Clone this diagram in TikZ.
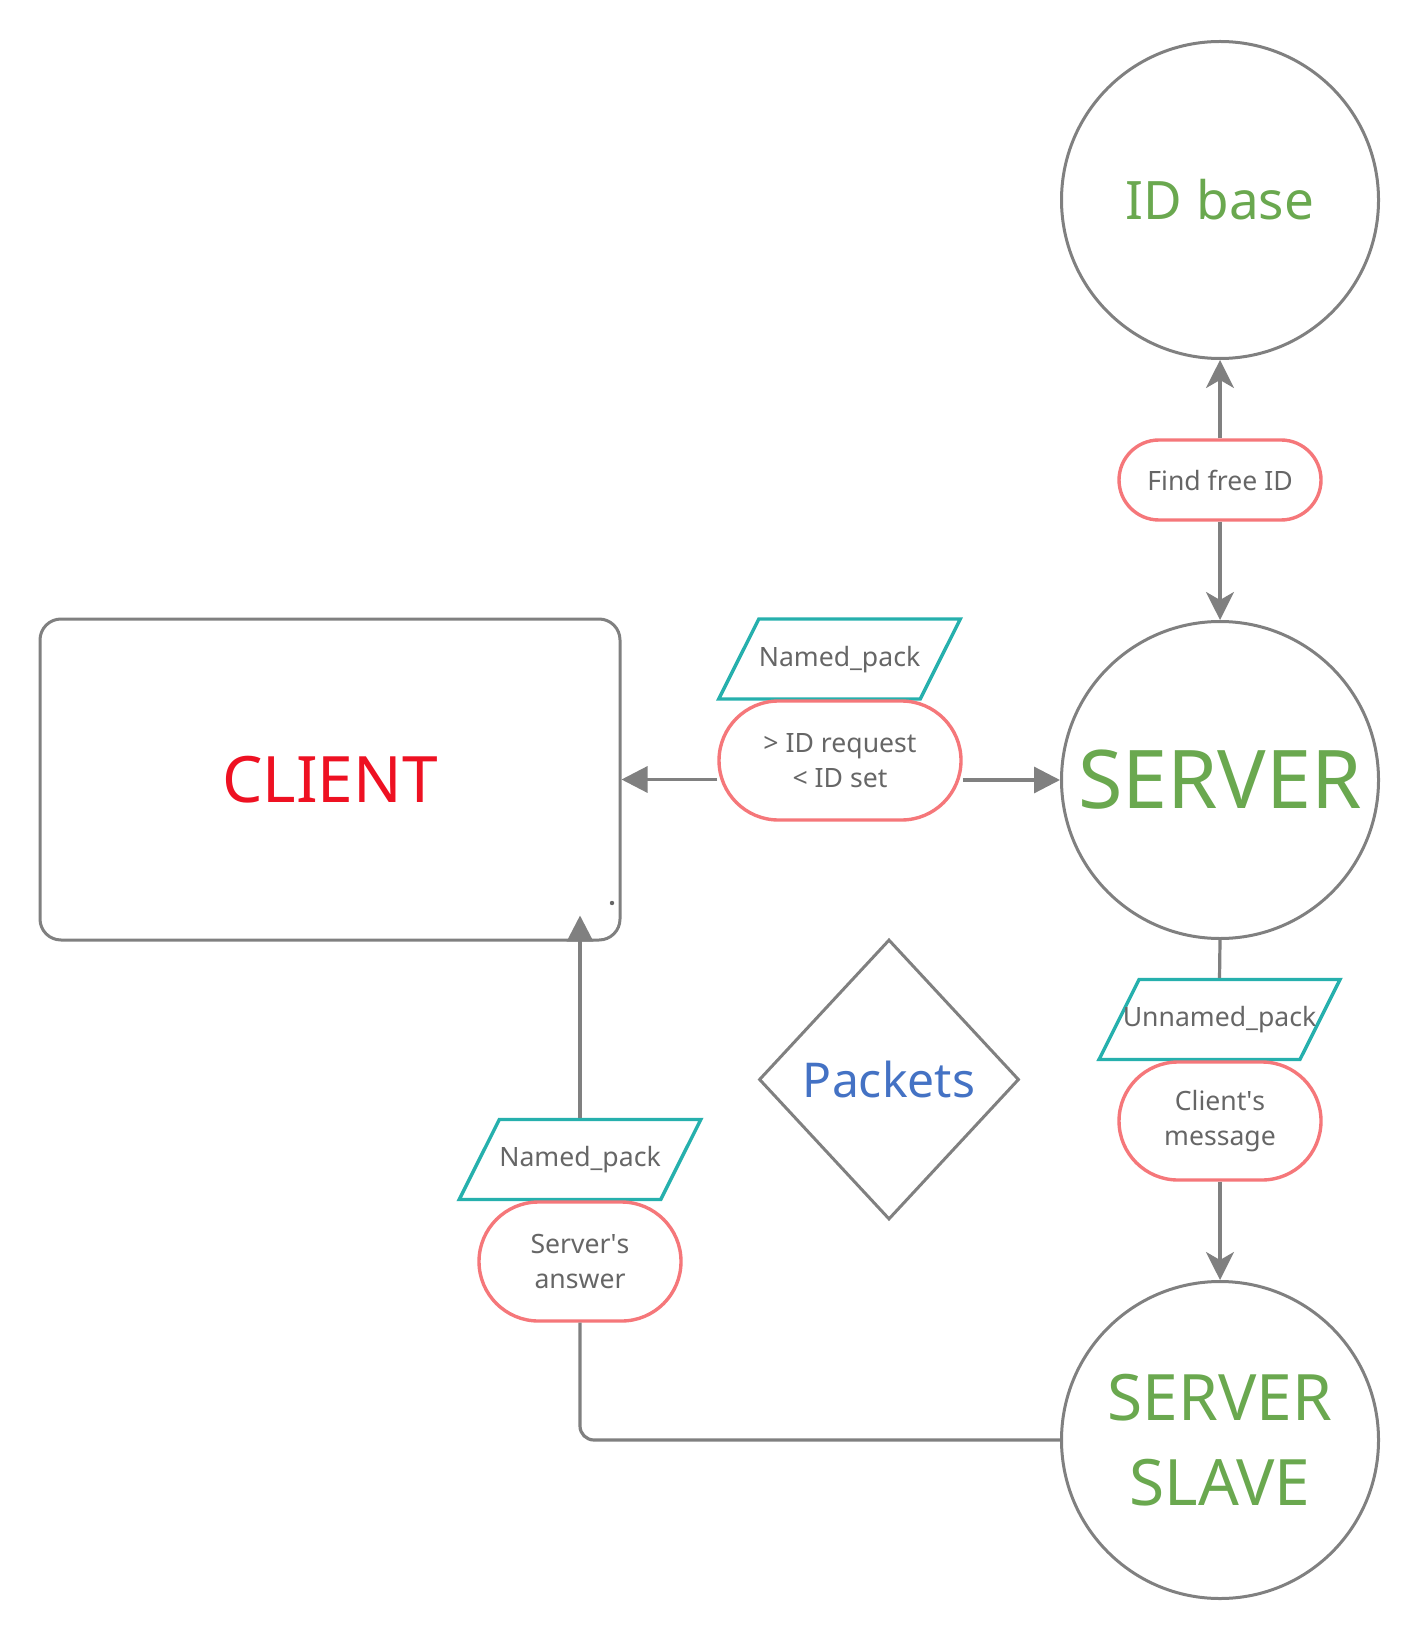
\documentclass[tikz,border=0pt]{standalone}
\usepackage{fontspec}
\setmainfont{Noto Sans}
\usetikzlibrary{shapes.geometric,shapes.misc,arrows.meta}
\definecolor{linegray}{HTML}{808080}
\definecolor{labelgray}{HTML}{666666}
\definecolor{idgreen}{HTML}{6AA84F}
\definecolor{clientred}{HTML}{EE1122}
\definecolor{packblue}{HTML}{4472C4}
\definecolor{packteal}{HTML}{26B0AD}
\definecolor{pillpink}{HTML}{F5777A}
\begin{document}
\begin{tikzpicture}[x=0.5pt,y=-0.5pt,
  bigcirc/.style={circle,draw=linegray,line width=1.5pt,minimum size=158.5pt,
    inner sep=0pt,text=idgreen,align=center},
  pill/.style={rounded rectangle,draw=pillpink,line width=1.7pt,minimum width=101pt,
    inner sep=0pt,text=labelgray,align=center,font=\fontsize{13.3}{17.5}\selectfont},
  pack/.style={trapezium,trapezium left angle=63.4,trapezium right angle=116.6,
    trapezium stretches body=true,draw=packteal,line width=1.7pt,minimum width=120.5pt,
    text height=10pt,text depth=3pt,inner ysep=13.5pt,inner xsep=0pt,
    text=labelgray,font=\fontsize{13.3}{17.5}\selectfont},
  conn/.style={draw=linegray,line width=1.6pt},
  tri/.style={conn,-{Triangle[length=13pt,width=13pt]}},
  stl/.style={conn,-{Stealth[length=14pt,width=14pt,inset=4pt]}}]
            \useasboundingbox (0,0) rectangle (1421,1641);
            % servers
            \draw (1220,200) node[bigcirc,font=\fontsize{26.5}{32}\selectfont] (idbase) {ID base};
            \draw (1220,780) node[bigcirc,font=\fontsize{40.5}{48}\selectfont] (server) {SERVER};
            \draw (1220,1440) node[bigcirc,font=\fontsize{32}{42.5}\selectfont] (slave) {SERVER\\SLAVE};
            % client
            \draw (330,779.5) node[rectangle,rounded corners=10.5pt,draw=linegray,
             line width=1.5pt,minimum width=290pt,minimum height=160.5pt,
             font=\fontsize{32}{40}\selectfont,text=clientred] (client) {CLIENT};
            \fill[labelgray] (612,903) circle (1.1pt);
            \draw (889,1079.5) node[diamond,draw=linegray,line width=1.5pt,inner sep=0pt,
             minimum width=130pt,minimum height=140pt,
             font=\fontsize{24}{30}\selectfont,text=packblue] (packets) {Packets};
            % packets and messages
            \draw (1220,480) node[pill,minimum height=40pt] (findid) {Find free ID};
            \draw (839.5,659) node[pack] (npack) {Named\_pack};
            \draw (840,760.5) node[pill,minimum width=121pt,minimum height=59.5pt] (idreq) {> ID request\\< ID set};
            \draw (1219.5,1019.5) node[pack] (unpack) {\makebox[78pt]{Unnamed\_pack}};
            \draw (1220,1121) node[pill,minimum height=59pt] (cmsg) {Client\textquotesingle s\\message};
            \draw (580,1159.5) node[pack] (spack) {Named\_pack};
            \draw (580,1261.5) node[pill,minimum height=59.5pt] (sans) {Server\textquotesingle s\\answer};
            % connectors
            \draw[stl] (findid) -- (idbase);
            \draw[stl] (findid) -- (server);
            \draw[tri] (idreq.west |- client) -- (client.east);
            \draw[tri] (idreq.east |- server) -- (server.west);
            \draw[conn] (server.south) -- (unpack.north);
            \draw[stl] (cmsg.south) -- (slave.north);
            \draw[conn,rounded corners=7pt] (slave.west) -| (sans.south);
            \draw[tri,shorten >=-13pt] (spack.north) -- (spack.north |- client.south);
            \end{tikzpicture}
\end{document}
